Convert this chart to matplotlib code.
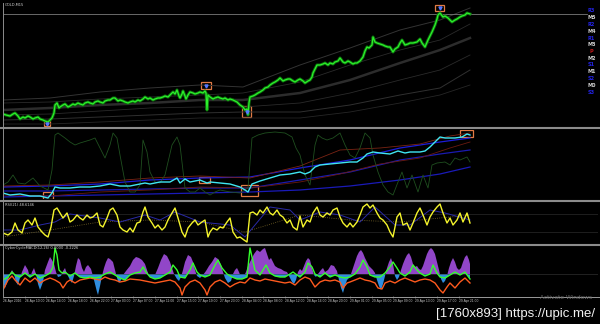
import matplotlib
matplotlib.use('Agg')
import matplotlib.pyplot as plt
import numpy as np
from matplotlib.lines import Line2D
from matplotlib.patches import Rectangle

# ---------------- DATA ----------------
# main panel: price (bar, level above panel floor)
price_pts = [(3,13),(6,12),(10,11),(13,13),(15,14),(18,11),(20,8),(23,10),(25,9),(28,11),
 (30,10),(33,8),(35,9),(38,10),(40,8),(43,7),(45,6),(48,5),(50,7),(52,9),
 (54,14),(55,22),(57,24),(59,19),(60,20),(63,22),(65,23),(68,20),(70,21),(73,23),
 (75,22),(78,24),(80,23),(83,22),(85,24),(88,25),(90,24),(93,23),(95,25),(98,26),
 (100,25),(103,24),(105,26),(108,27),(110,27),(113,29),(115,29),(118,26),(120,27),(123,26),
 (125,25),(128,24),(130,25),(133,26),(135,25),(138,27),(140,26),(143,28),(145,30),(148,28),
 (150,29),(153,27),(155,28),(158,29),(160,29),(163,30),(165,31),(168,30),(170,32),(173,35),
 (175,33),(177,37),(179,31),(180,29),(182,33),(183,36),(185,31),(186,28),(188,32),(190,35),
 (193,34),(195,33),(198,34),(200,35),(203,34),(205,36),(206,34),(207,17),(208,32),(210,30),
 (213,28),(215,29),(218,30),(220,29),(223,28),(225,29),(228,27),(230,28),(233,27),(235,26),
 (237,25),(240,22),(243,20),(245,17),(247,18),(248,12),(249,24),(250,30),(253,31),(255,32),
 (258,34),(260,35),(263,37),(265,39),(268,40),(270,42),(273,44),(275,45),(278,47),(280,49),
 (283,46),(285,47),(288,48),(290,48),(293,46),(295,45),(298,47),(300,48),(303,46),(305,44),
 (308,46),(310,47),(312,50),(313,54),(315,58),(317,62),(320,62),(323,63),(325,64),(328,62),
 (330,64),(333,63),(335,65),(338,66),(340,69),(343,65),(345,64),(348,66),(350,65),(353,63),
 (355,64),(357,64),(360,66),(363,70),(365,76),(367,80),(369,79),(372,82),(373,90),(375,85),
 (377,84),(380,83),(383,82),(385,81),(388,80),(390,80),(393,75),(395,78),(398,80),(400,84),
 (402,87),(405,82),(408,83),(410,84),(413,84),(417,85),(420,88),(422,84),(425,80),(428,87),
 (430,91),(432,95),(435,102),(437,108),(438,112),(440,114),(443,110),(445,111),(448,109),(450,107),
 (452,105),(455,107),(457,108),(460,110),(462,111),(465,112),(467,114),(470,113)]
bid_level = 113

band_bars = [3, 50, 100, 150, 200, 243, 300, 350, 400, 440, 470]
band1 = [27, 29, 35, 39, 42, 40, 62, 79, 97, 107, 119]
band2 = [24, 25, 28, 30, 32, 34, 45, 62, 77, 87, 103]
band3 = [17, 19, 22, 24, 27, 27, 34, 47, 64, 77, 89]
band4 = [12, 13, 16, 19, 20, 20, 24, 34, 47, 57, 72]
band5 = [7, 8, 10, 12, 14, 15, 15, 22, 32, 39, 57]
band6 = [3, 3, 5, 7, 9, 9, 9, 15, 24, 32, 42]

main_boxes = [(44, 50, 1, 6), (201, 211, 38, 45), (242, 251, 10, 21), (435, 444, 116, 122)]

pivot_labels = ['R3','M5','R2','M4','R1','M3','P','M2','S1','M1','S2','M0','S3']
pivot_colors = ['#2323e6','#d0d0d0','#2323e6','#d0d0d0','#2323e6','#d0d0d0','#c01818',
                '#d0d0d0','#2323e6','#d0d0d0','#2323e6','#d0d0d0','#2323e6']

# panel 2
cyan_pts = [(3,7),(10,5),(20,6),(30,4),(40,4),(48,2),(52,7),(55,13),(60,12),(70,12),(80,13),
 (90,13),(100,14),(110,16),(120,14),(130,14),(140,16),(145,17),(150,16),(160,18),(170,18),
 (177,22),(180,17),(185,21),(190,18),(200,20),(207,17),(210,18),(220,17),(230,16),(240,13),
 (245,10),(248,8),(252,16),(260,19),(270,22),(280,25),(290,26),(300,28),(305,26),(310,28),
 (315,33),(320,35),(330,36),(340,37),(350,38),(357,38),(363,42),(367,46),(373,48),(380,47),
 (390,46),(398,49),(405,47),(410,48),(420,48),(425,49),(430,53),(435,58),(440,63),(445,62),
 (450,62),(455,62),(462,63),(467,66),(470,65)]
p2_bars = [3, 50, 100, 150, 200, 250, 300, 350, 400, 440, 470]
blue_up = [13, 14, 16, 20, 22, 23, 32, 40, 52, 58, 62]
blue_mid = [9, 9, 10, 11, 12, 12, 20, 28, 40, 46, 50]
blue_low = [3, 4, 5, 6, 7, 8, 10, 14, 20, 26, 33]
red_bars = [3, 50, 100, 150, 200, 250, 300, 340, 380, 420, 450, 470]
red_upper = [14, 15, 18, 22, 24, 22, 34, 50, 52, 56, 64, 67]
red_lower = [5, 4, 8, 10, 13, 12, 18, 26, 36, 42, 52, 58]
osc_pts = [(3,15),(8,18),(13,25),(18,17),(25,16),(33,22),(40,14),(48,10),(52,30),(55,65),
 (58,67),(65,62),(70,58),(75,55),(80,57),(90,60),(95,62),(100,52),(105,42),(110,55),
 (113,67),(117,62),(120,45),(125,18),(130,8),(135,8),(140,15),(143,60),(147,48),(150,28),
 (155,18),(160,17),(165,25),(172,55),(177,63),(180,55),(185,12),(190,8),(195,8),(200,12),
 (205,8),(210,5),(215,8),(220,10),(230,8),(240,7),(248,12),(252,62),(258,65),(265,67),
 (275,68),(285,67),(292,63),(296,52),(300,45),(305,25),(310,15),(315,55),(318,65),(322,62),
 (327,60),(333,62),(340,67),(345,55),(350,45),(355,42),(360,52),(365,67),(370,62),(373,45),
 (378,28),(383,15),(388,8),(393,5),(398,18),(402,28),(407,12),(412,25),(418,8),(423,25),
 (428,12),(432,35),(437,37),(445,38),(450,35),(455,42),(460,40),(467,43),(470,38)]
p2_boxes = [(43, 53, 1, 8), (199, 210, 17, 23), (241, 258, 4, 15), (460, 473, 63, 70)]

# RSI panel
rsi_pts = [(3,11),(8,9),(12,12),(15,21),(18,14),(22,11),(25,21),(28,24),(32,19),(35,26),
 (38,17),(42,12),(45,9),(48,7),(51,17),(54,34),(57,36),(60,31),(63,26),(67,31),
 (70,22),(73,24),(77,29),(80,26),(83,24),(87,29),(90,26),(93,27),(97,31),(100,19),
 (103,17),(107,26),(110,34),(113,36),(117,29),(120,17),(123,14),(127,12),(130,16),(133,12),
 (137,21),(140,22),(143,32),(145,37),(148,27),(152,21),(155,16),(158,19),(162,14),(165,17),
 (168,24),(172,31),(175,36),(178,26),(182,12),(185,7),(188,16),(192,21),(195,24),(198,19),
 (202,22),(205,24),(208,7),(210,12),(213,16),(217,14),(220,17),(223,16),(227,22),(230,26),
 (233,12),(237,6),(240,7),(244,4),(247,2),(250,31),(253,32),(257,29),(260,34),(263,31),
 (267,37),(270,31),(273,29),(277,34),(280,29),(283,27),(287,21),(290,24),(293,17),(297,14),
 (300,28),(303,17),(307,24),(310,22),(313,31),(317,37),(320,29),(323,27),(327,31),(330,29),
 (333,34),(337,36),(340,27),(343,21),(347,17),(350,21),(353,17),(357,22),(360,29),(363,37),
 (367,40),(370,36),(373,39),(377,31),(380,26),(383,24),(387,19),(390,12),(393,7),(397,27),
 (400,31),(403,19),(407,21),(410,14),(413,21),(417,31),(420,36),(423,29),(427,19),(430,27),
 (433,32),(437,37),(440,40),(443,31),(447,21),(450,26),(453,19),(457,24),(460,31),(463,22),
 (467,31),(470,21)]
rsi_sig_bars = [3,20,40,55,70,100,120,145,160,175,200,230,245,255,270,290,300,320,340,360,375,395,410,430,445,470]
rsi_sig = [14,14,19,22,30,26,22,29,24,32,22,19,7,19,37,34,24,32,29,22,37,19,19,34,31,24]
rsi_slow_bars = [3, 50, 100, 150, 200, 245, 300, 350, 400, 470]
rsi_slow = [7, 14, 22, 24, 22, 12, 29, 24, 22, 29]
rsi_levels = [30, 12]

# oscillator (histogram + two lines)
hist_pts = [(3,-8),(5,-14),(8,-6),(10,0),(12,4),(14,0),(16,-8),(18,-11),(20,-4),(22,2),
 (25,9),(28,4),(30,-4),(32,2),(34,6),(36,0),(38,-10),(40,-16),(43,-8),(45,4),
 (48,12),(50,17),(52,14),(54,10),(56,2),(58,-3),(61,-2),(63,3),(65,6),(67,0),
 (70,-6),(72,-9),(74,-2),(76,8),(78,16),(80,14),(82,6),(84,2),(86,7),(88,9),
 (91,5),(93,-2),(95,-10),(97,-18),(98,-21),(100,-12),(102,-2),(104,6),(106,12),(108,16),
 (110,15),(113,12),(115,4),(117,-4),(119,-9),(121,-6),(123,-1),(126,3),(130,8),(133,14),
 (136,17),(139,16),(142,14),(145,10),(147,4),(149,-2),(152,-4),(155,-1),(158,6),(161,14),
 (164,20),(167,18),(170,12),(172,6),(174,0),(177,-5),(179,-7),(181,-3),(183,4),(185,12),
 (188,19),(191,17),(193,12),(195,4),(197,-2),(200,-4),(203,-1),(206,3),(209,8),(212,12),
 (215,17),(218,15),(221,9),(223,2),(225,-4),(228,-9),(231,-7),(233,0),(235,4),(237,6),
 (239,2),(241,-3),(244,-2),(246,2),(248,8),(251,14),(254,20),(257,24),(260,22),(263,25),
 (265,26),(267,20),(269,14),(271,16),(273,12),(275,8),(278,6),(281,5),(284,3),(287,2),
 (290,-4),(292,-8),(294,-10),(296,-6),(298,2),(300,5),(302,3),(304,8),(306,13),(308,16),
 (310,14),(312,6),(314,-1),(316,-3),(318,0),(321,4),(323,6),(325,2),(328,4),(331,9),
 (334,8),(337,3),(339,-6),(341,-14),(343,-19),(345,-12),(347,-6),(349,-4),(351,0),(353,6),
 (355,12),(357,18),(359,22),(361,24),(363,21),(365,16),(367,12),(369,8),(371,6),(373,4),
 (375,1),(377,-6),(379,-12),(381,-16),(383,-10),(385,-2),(387,6),(389,12),(391,16),(393,10),
 (395,-2),(397,-6),(399,-3),(401,4),(403,10),(405,15),(407,19),(409,21),(411,17),(413,10),
 (415,7),(417,8),(419,5),(421,4),(423,8),(425,14),(427,20),(429,24),(431,26),(433,24),
 (435,20),(437,12),(439,4),(441,-5),(443,-9),(445,-7),(447,-2),(449,6),(451,12),(453,16),
 (455,12),(457,6),(459,4),(461,6),(463,12),(465,17),(467,19),(469,14),(470,10)]
green_pts = [(3,-6),(8,-3),(12,2),(15,-1),(20,-3),(25,1),(30,-3),(35,0),(40,-4),(45,-2),
 (50,1),(53,7),(55,26),(57,19),(59,4),(62,1),(65,2),(70,-2),(75,1),(80,-3),
 (85,-4),(90,-3),(95,-4),(100,-3),(105,0),(110,2),(115,-1),(120,-4),(125,-6),(130,-1),
 (135,1),(140,2),(143,7),(146,2),(150,-3),(155,-5),(160,-4),(165,-1),(170,2),(173,9),
 (177,4),(180,-3),(185,-4),(190,4),(193,11),(197,2),(200,-1),(205,-3),(210,-1),(215,9),
 (218,14),(222,6),(227,0),(232,-3),(237,-5),(242,-5),(247,-3),(250,26),(252,17),(255,4),
 (260,-1),(263,4),(266,9),(270,1),(275,-2),(280,-3),(285,-3),(290,0),(293,2),(297,-1),
 (300,-3),(305,2),(308,11),(312,7),(315,0),(320,-3),(325,1),(330,-3),(335,-1),(340,-3),
 (345,-4),(350,-3),(355,0),(360,7),(363,14),(367,7),(370,-1),(375,-3),(380,-3),(385,1),
 (390,7),(393,12),(397,6),(400,1),(405,-2),(410,2),(413,9),(417,4),(420,1),(425,-2),
 (430,0),(433,9),(437,1),(440,-3),(445,-4),(450,-1),(455,2),(460,-1),(465,2),(470,-5)]
orange_pts = [(3,-16),(8,-6),(12,-2),(15,-6),(20,-11),(25,-4),(30,-8),(35,-4),(40,-9),(45,-6),
 (50,-4),(55,-6),(60,-9),(63,-14),(67,-8),(70,-6),(75,-9),(80,-6),(85,-5),(90,-4),
 (95,-5),(100,-6),(105,-3),(110,-5),(115,-6),(120,-8),(125,-7),(130,-5),(140,-6),(150,-8),
 (155,-9),(160,-8),(170,-6),(175,-8),(180,-14),(182,-21),(185,-13),(190,-8),(195,-6),(200,-9),
 (205,-16),(207,-21),(210,-13),(215,-8),(220,-6),(225,-9),(230,-13),(235,-10),(240,-8),(245,-9),
 (250,-4),(255,-6),(260,-7),(265,-5),(270,-6),(280,-8),(285,-9),(290,-8),(295,-11),(300,-6),
 (305,-3),(310,-5),(315,-13),(320,-8),(325,-6),(330,-7),(335,-6),(340,-8),(343,-14),(347,-9),
 (350,-8),(355,-6),(360,-4),(365,-6),(370,-7),(375,-9),(378,-14),(382,-15),(385,-9),(390,-7),
 (395,-9),(400,-6),(405,-4),(410,-6),(415,-8),(420,-6),(425,-5),(430,-6),(435,-9),(440,-16),
 (443,-19),(447,-13),(450,-9),(455,-14),(460,-8),(465,-4),(470,-9)]

tick_bars = [3, 25, 46, 68, 90, 111, 133, 155, 177, 198, 220, 242, 263, 285, 307, 328,
             350, 372, 393, 415, 437, 459]
tick_labels = ['26 Apr 2016', '26 Apr 10:00', '26 Apr 14:00', '26 Apr 18:00', '26 Apr 22:00',
               '27 Apr 03:00', '27 Apr 07:00', '27 Apr 11:00', '27 Apr 15:00', '27 Apr 19:00',
               '27 Apr 23:00', '28 Apr 04:00', '28 Apr 08:00', '28 Apr 12:00', '28 Apr 16:00',
               '28 Apr 20:00', '29 Apr 01:00', '29 Apr 05:00', '29 Apr 09:00', '29 Apr 13:00',
               '29 Apr 17:00', '29 Apr 21:00']

# ---------------- FIGURE ----------------
W, H = 600, 324
fig = plt.figure(figsize=(6, 3.24), dpi=100, facecolor='black')

def px_axes(x0, y0, x1, y1, ylim):
    ax = fig.add_axes([x0 / W, 1 - y1 / H, (x1 - x0) / W, (y1 - y0) / H])
    ax.set_facecolor('black')
    for s in ax.spines.values():
        s.set_visible(False)
    ax.set_xticks([]); ax.set_yticks([])
    ax.set_xlim(3, 598)
    ax.set_ylim(*ylim)
    return ax

def xy(pts):
    a = np.array(pts, dtype=float)
    return a[:, 0], a[:, 1]

ax1 = px_axes(3, 3, 598, 127, (0, 124))
ax2 = px_axes(3, 130, 598, 199, (1, 70))
ax3 = px_axes(3, 202, 598, 243, (1, 42))
ax4 = px_axes(3, 246, 598, 296, (-22, 28))

# main panel
for b, lw, c in [(band1, 0.7, '#333333'), (band2, 0.6, '#2a2a2a'), (band3, 1.8, '#2c2c2c'),
                 (band4, 0.6, '#2a2a2a'), (band5, 0.7, '#303030'), (band6, 0.6, '#262626')]:
    ax1.plot(band_bars, b, color=c, lw=lw)
ax1.axhline(bid_level, xmin=0, xmax=(587 - 3) / (598 - 3), color='#7a7a7a', lw=0.6)
px_, py_ = xy(price_pts)
ax1.plot(px_, py_, color='#0c6e0c', lw=2.2, solid_joinstyle='round')
ax1.plot(px_, py_, color='#2cf02c', lw=0.9, solid_joinstyle='round')
for (x0, x1, y0, y1) in main_boxes:
    ax1.add_patch(Rectangle((x0, y0), x1 - x0, y1 - y0, fill=False, ec='#e07a45', lw=0.9))
    ax1.plot([(x0 + x1) / 2], [(y0 + y1) / 2], marker='v', ms=2.2, color='#5577ff', mec='#5577ff')
for i, (lab, c) in enumerate(zip(pivot_labels, pivot_colors)):
    ypx = 11 + 6.75 * i
    ax1.text(0.989, (127 - ypx) / 124, lab, transform=ax1.transAxes, color=c,
             fontsize=3.6, fontweight='bold', ha='center', va='center')

# panel 2
for b, c in [(blue_up, '#1c1cd8'), (blue_mid, '#1a1ab0'), (blue_low, '#1a1ab8')]:
    ax2.plot(p2_bars, b, color=c, lw=0.9)
ax2.plot(red_bars, red_upper, color='#7a2414', lw=0.6)
ax2.plot(red_bars, red_lower, color='#6a1a10', lw=0.6)
ox, oy = xy(osc_pts)
ax2.plot(ox, oy, color='#1f4f1f', lw=0.6)
cx, cy = xy(cyan_pts)
ax2.plot(cx, cy, color='#40e6f2', lw=1.0)
for (x0, x1, y0, y1) in p2_boxes:
    ax2.add_patch(Rectangle((x0, y0), x1 - x0, y1 - y0, fill=False, ec='#e07a45', lw=0.9))

# RSI panel
for lv in rsi_levels:
    ax3.axhline(lv, color='#2a2a2a', lw=0.5)
ax3.plot(rsi_slow_bars, rsi_slow, color='#7d6a2a', lw=0.6, ls=':')
ax3.plot(rsi_sig_bars, rsi_sig, color='#2a2aa8', lw=0.7)
rx, ry = xy(rsi_pts)
ax3.plot(rx, ry, color='#f4f42c', lw=1.0)

# oscillator panel
hx, hy = xy(hist_pts)
gx, gy = xy(green_pts)
ax4.fill_between(hx, 0, hy, where=hy > 0, interpolate=True, color='#9146c8', lw=0)
ax4.fill_between(hx, 0, hy, where=hy < 0, interpolate=True, color='#2f8ee0', lw=0)
ax4.fill_between(gx, 0, gy, where=gy < 0, interpolate=True, color='#2f8ee0', lw=0)
ax4.axhline(0, color='#3a3a3a', lw=0.4)
orx, ory = xy(orange_pts)
ax4.plot(orx, ory, color='#ff5a1e', lw=1.0)
ax4.plot(gx, gy, color='#34ff2c', lw=1.0)
ax4.set_xticks(tick_bars)
ax4.set_xticklabels(tick_labels, fontsize=2.4, color='#c8c8c8', ha='left',
                    family=['Liberation Sans Narrow', 'Liberation Sans', 'DejaVu Sans'])
ax4.tick_params(axis='x', length=1.2, width=0.4, color='#aaaaaa', pad=1.2)

# frame / separators
def fline(x0, y0, x1, y1, c, lw):
    fig.add_artist(Line2D([x0 / W, x1 / W], [1 - y0 / H, 1 - y1 / H], color=c, lw=lw))

for y in (128, 200.5, 244.5):
    fline(0, y, 600, y, '#8c8c8c', 1.5)
fline(3, 297, 600, 297, '#9a9a9a', 0.7)
fline(3, 3, 3, 297, '#8c8c8c', 0.7)

# labels
fig.text(5 / W, 1 - 4.5 / H, 'GOLD,M15', fontsize=2.6, color='#cfcfcf', va='center')
fig.text(5 / W, 1 - 204.5 / H, 'RSI(21) 48.6146', fontsize=2.6, color='#cfcfcf', va='center')
fig.text(5 / W, 1 - 248 / H, 'CyberCycleMACD(12,26) 0.0000 -0.2226', fontsize=2.6,
         color='#cfcfcf', va='center')
fig.text(566 / W, 1 - 297.5 / H, 'Activate Windows', fontsize=4.2, color='#6a6a6a',
         ha='center', va='center')
fig.text(595 / W, 1 - 314 / H, '[1760x893] https://upic.me/', fontsize=9.5,
         color='#f2f2f2', ha='right', va='center', family=['Liberation Sans', 'DejaVu Sans'])

fig.savefig('out.png', dpi=100, facecolor='black')
